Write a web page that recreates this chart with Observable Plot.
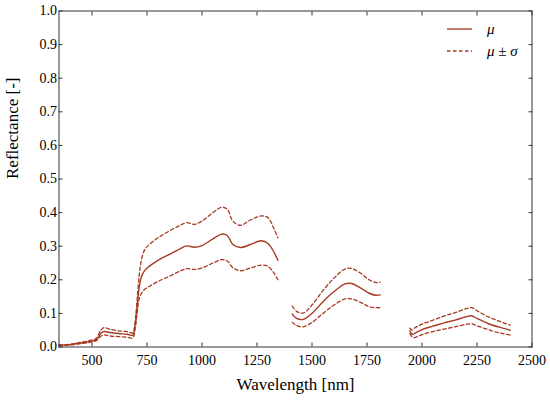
<!DOCTYPE html>
<html>
<head>
<meta charset="utf-8">
<script src="https://cdn.jsdelivr.net/npm/d3@7"></script>
<script src="https://cdn.jsdelivr.net/npm/@observablehq/plot@0.6"></script>
<style>
  html, body { margin: 0; padding: 0; background: #fff; }
  #wrap { position: relative; width: 550px; height: 403px; }
  #chart svg, #chart svg text { font-family: "Liberation Serif", "DejaVu Serif", "Times New Roman", Times, serif !important; }
  #legend { position: absolute; left: 446px; top: 18px; font-family: "Liberation Serif", "DejaVu Serif", "Times New Roman", Times, serif; font-style: italic; font-size: 15px; color: #000; }
  #legend .row { display: flex; align-items: center; height: 22px; }
  #legend svg { margin-right: 14px; }
</style>
</head>
<body>
<div id="wrap">
  <div id="chart"></div>
  <div id="legend">
    <div class="row"><svg width="27" height="6"><line x1="1" x2="26" y1="3" y2="3" stroke="#a63a22" stroke-width="1.3"/></svg><span>μ</span></div>
    <div class="row"><svg width="27" height="6"><line x1="1" x2="26" y1="3" y2="3" stroke="#a63a22" stroke-width="1.3" stroke-dasharray="3.5,2.5"/></svg><span>μ ± σ</span></div>
  </div>
</div>
<script>
const wavelength = [350,400,450,500,520,540,555,580,620,660,685,695,705,715,725,740,760,800,850,900,930,965,1000,1050,1090,1115,1140,1175,1220,1270,1300,1325,1345,
  1375,
  1410,1430,1460,1500,1550,1600,1650,1680,1720,1760,1790,1810,
  1875,
  1945,1955,1965,2000,2050,2100,2150,2200,2225,2250,2300,2350,2400];
const meanR = [0.005,0.007,0.012,0.018,0.022,0.040,0.046,0.043,0.040,0.038,0.035,0.060,0.120,0.180,0.210,0.228,0.240,0.258,0.275,0.292,0.301,0.297,0.302,0.322,0.336,0.332,0.305,0.296,0.305,0.316,0.308,0.285,0.258,
  NaN,
  0.098,0.085,0.082,0.100,0.135,0.165,0.188,0.189,0.176,0.160,0.154,0.155,
  NaN,
  0.048,0.038,0.040,0.052,0.062,0.072,0.080,0.090,0.093,0.085,0.070,0.059,0.050];
const upperR = [0.006,0.008,0.014,0.021,0.026,0.050,0.058,0.053,0.048,0.046,0.042,0.070,0.140,0.215,0.260,0.290,0.305,0.325,0.345,0.362,0.370,0.365,0.375,0.400,0.416,0.410,0.375,0.362,0.378,0.390,0.385,0.355,0.325,
  NaN,
  0.122,0.106,0.101,0.125,0.168,0.205,0.232,0.234,0.220,0.200,0.192,0.193,
  NaN,
  0.056,0.050,0.056,0.068,0.080,0.092,0.102,0.114,0.117,0.108,0.090,0.077,0.065];
const lowerR = [0.004,0.006,0.010,0.015,0.019,0.032,0.036,0.033,0.031,0.029,0.027,0.050,0.100,0.145,0.160,0.172,0.180,0.195,0.210,0.226,0.233,0.231,0.235,0.250,0.260,0.256,0.236,0.227,0.235,0.244,0.240,0.222,0.200,
  NaN,
  0.074,0.064,0.060,0.073,0.100,0.125,0.143,0.143,0.133,0.120,0.117,0.117,
  NaN,
  0.040,0.030,0.028,0.037,0.046,0.053,0.060,0.067,0.069,0.063,0.052,0.042,0.036];
const xTicks = [500,750,1000,1250,1500,1750,2000,2250,2500];
const yTicks = [0,0.1,0.2,0.3,0.4,0.5,0.6,0.7,0.8,0.9,1.0];

const rows = wavelength.map((w, i) => ({w, m: meanR[i], u: upperR[i], l: lowerR[i]}));
const color = "#a63a22";
const font = "Liberation Serif";

const chart = Plot.plot({
  width: 550,
  height: 403,
  marginLeft: 58.5,
  marginRight: 18.5,
  marginTop: 10.5,
  marginBottom: 56.5,
  style: {fontFamily: font, fontSize: "14px", color: "#000", background: "#fff"},
  x: {domain: [350, 2500]},
  y: {domain: [0, 1]},
  marks: [
    Plot.axisX(xTicks, {anchor: "bottom", tickSize: 0, tickPadding: 8, tickFormat: d => String(d), fontSize: 14, label: null}),
    Plot.axisX(xTicks, {anchor: "bottom", tickSize: -4, text: null, label: null, stroke: "#333"}),
    Plot.axisX(xTicks, {anchor: "top", tickSize: -4, text: null, label: null, stroke: "#333"}),
    Plot.axisY(yTicks, {anchor: "left", tickSize: 0, tickPadding: 2, tickFormat: d => d.toFixed(1), fontSize: 14, label: null}),
    Plot.axisY(yTicks, {anchor: "left", tickSize: -4, text: null, label: null, stroke: "#333"}),
    Plot.axisY(yTicks, {anchor: "right", tickSize: -4, text: null, label: null, stroke: "#333"}),
    Plot.line(rows, {x: "w", y: "u", stroke: color, strokeWidth: 1.3, strokeDasharray: "3.5,2.5", curve: "catmull-rom"}),
    Plot.line(rows, {x: "w", y: "l", stroke: color, strokeWidth: 1.3, strokeDasharray: "3.5,2.5", curve: "catmull-rom"}),
    Plot.line(rows, {x: "w", y: "m", stroke: color, strokeWidth: 1.4, curve: "catmull-rom"}),
    Plot.frame({stroke: "#333", strokeWidth: 1}),
    Plot.text(["Wavelength [nm]"], {frameAnchor: "bottom", dy: 43, fontSize: 17, fill: "#000"}),
    Plot.text(["Reflectance [-]"], {frameAnchor: "left", dx: -46, rotate: -90, fontSize: 17, fill: "#000"})
  ]
});
document.getElementById("chart").appendChild(chart);
</script>
</body>
</html>
